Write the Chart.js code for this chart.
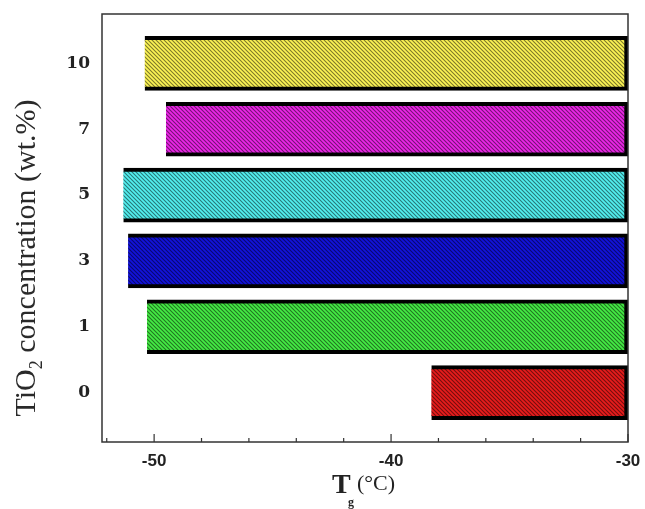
<!DOCTYPE html>
<html>
<head>
<meta charset="utf-8">
<script src="https://cdn.jsdelivr.net/npm/chart.js@4"></script>
<style>
  html, body { margin: 0; padding: 0; background: #fff; }
  #wrap { width: 645px; height: 509px; }
</style>
</head>
<body>
<div id="wrap"><canvas id="tgChart" width="645" height="509"></canvas></div>
<script>
// TiO2 content (wt.%) from bottom to top
const categories = ['0', '1', '3', '5', '7', '10'];
// left end of each bar (Tg onset, °C)
const tgStart = [-38.3, -50.3, -51.1, -51.3, -49.5, -50.4];
// right end of each bar
const tgEnd = [-30, -30, -30, -30, -30, -30];
const barColors = ['#e81c1c', '#44ec44', '#1212dc', '#52f0f0', '#ec26e8', '#fcf454'];
const xTickLabels = [-50, -40, -30];

function hatch(color) {
  const c = document.createElement('canvas');
  c.width = 4; c.height = 4;
  const g = c.getContext('2d');
  g.fillStyle = color;
  g.fillRect(0, 0, 4, 4);
  g.strokeStyle = 'rgba(0,0,0,0.5)';
  g.lineWidth = 1.1;
  g.beginPath();
  g.moveTo(-1, -1); g.lineTo(5, 5);
  g.moveTo(-1, 3); g.lineTo(1, 5);
  g.moveTo(3, -1); g.lineTo(5, 1);
  g.stroke();
  return g.createPattern(c, 'repeat');
}

const points = categories.map((_, i) => ({ y: i, x: [tgStart[i], tgEnd[i]] }));

// frame, inward ticks and axis titles
const decor = {
  id: 'decor',
  afterDraw(chart) {
    const { ctx, chartArea: a, scales } = chart;
    ctx.save();
    ctx.strokeStyle = '#333';
    ctx.lineWidth = 1.5;
    ctx.strokeRect(a.left, a.top, a.right - a.left, a.bottom - a.top);

    // x ticks pointing into the plot
    ctx.lineWidth = 1.2;
    ctx.beginPath();
    for (let v = -52; v <= -30; v += 2) {
      const px = scales.x.getPixelForValue(v);
      const len = v % 10 === 0 ? 8 : 4;
      ctx.moveTo(px, a.bottom);
      ctx.lineTo(px, a.bottom - len);
    }
    ctx.stroke();

    ctx.fillStyle = '#222';
    ctx.textBaseline = 'alphabetic';
    // x title: T_g (°C)
    ctx.font = 'bold 28px "Liberation Serif"';
    ctx.fillText('T', 332, 493);
    ctx.font = 'bold 12px "Liberation Serif"';
    ctx.fillText('g', 348, 506);
    ctx.font = '22px "Liberation Serif"';
    ctx.fillText('(°C)', 357, 490);

    // y title: TiO2 concentration (wt.%)
    ctx.fillStyle = '#2a2a2a';
    ctx.translate(35, 258);
    ctx.rotate(-Math.PI / 2);
    const big = '30px "Liberation Serif"';
    const small = '18px "Liberation Serif"';
    ctx.font = big;
    const w1 = ctx.measureText('TiO').width;
    const w3 = ctx.measureText(' concentration (wt.%)').width;
    ctx.font = small;
    const w2 = ctx.measureText('2').width;
    const x0 = -(w1 + w2 + w3) / 2;
    ctx.font = big;
    ctx.fillText('TiO', x0, 0);
    ctx.font = small;
    ctx.fillText('2', x0 + w1, 7);
    ctx.font = big;
    ctx.fillText(' concentration (wt.%)', x0 + w1 + w2, 0);
    ctx.restore();
  }
};

new Chart(document.getElementById('tgChart'), {
  type: 'bar',
  data: {
    datasets: [{
      data: points,
      backgroundColor: barColors.map(hatch),
      borderColor: '#000',
      borderWidth: 4,
      borderSkipped: 'right',
      barThickness: 54
    }]
  },
  options: {
    indexAxis: 'y',
    responsive: false,
    animation: false,
    layout: { padding: { top: 14, right: 17, left: 0, bottom: 0 } },
    plugins: { legend: { display: false }, tooltip: { enabled: false } },
    scales: {
      x: {
        type: 'linear',
        min: -52.2,
        max: -30,
        grid: { display: false, drawTicks: false },
        border: { display: false },
        afterFit: (s) => { s.height = 67; s.paddingLeft = 0; s.paddingRight = 0; },
        afterBuildTicks: (s) => { s.ticks = xTickLabels.map((v) => ({ value: v })); },
        ticks: {
          padding: 9,
          color: '#222',
          font: { family: 'Liberation Sans', weight: 'bold', size: 17 },
          maxRotation: 0,
          callback: (v) => String(v)
        }
      },
      y: {
        type: 'linear',
        offset: false,
        min: -0.75,
        max: 5.75,
        grid: { display: false, drawTicks: false },
        border: { display: false },
        afterFit: (s) => { s.width = 102; s.paddingTop = 0; s.paddingBottom = 0; },
        afterBuildTicks: (s) => { s.ticks = categories.map((_, i) => ({ value: i })); },
        ticks: {
          padding: 12,
          color: '#222',
          font: { family: 'DejaVu Serif', weight: 'bold', size: 17 },
          callback: (v) => categories[v]
        }
      }
    }
  },
  plugins: [decor]
});
</script>
</body>
</html>
